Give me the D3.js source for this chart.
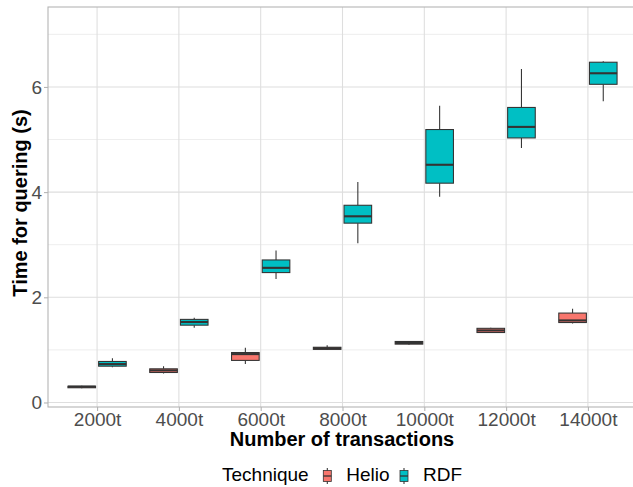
<!DOCTYPE html>
<html lang="en">

<head>
    <meta charset="utf-8">
    <script src="https://d3js.org/d3.v7.min.js"></script>
    <style>
        body { margin: 0; background: #fff; }
        text { font-family: "Liberation Sans", Arial, sans-serif; }
    </style>
</head>

<body>
    <div id="my_dataviz"></div>
</body>

<script>
    // data (whisker low, q1, median, q3, whisker high)
    const categories = ["2000t", "4000t", "6000t", "8000t", "10000t", "12000t", "14000t"];
    const techniques = ["Helio", "RDF"];
    const colors = ["#F8766D", "#00BFC4"];

    const helioLow = [0.27, 0.55, 0.73, 1.00, 1.10, 1.33, 1.50];
    const helioQ1 = [0.28, 0.57, 0.80, 1.01, 1.11, 1.33, 1.52];
    const helioMed = [0.30, 0.61, 0.92, 1.03, 1.13, 1.37, 1.56];
    const helioQ3 = [0.31, 0.64, 0.95, 1.05, 1.16, 1.41, 1.70];
    const helioHigh = [0.32, 0.69, 1.04, 1.09, 1.17, 1.42, 1.78];

    const rdfLow = [0.67, 1.42, 2.35, 3.03, 3.91, 4.84, 5.73];
    const rdfQ1 = [0.69, 1.47, 2.47, 3.41, 4.17, 5.03, 6.05];
    const rdfMed = [0.73, 1.53, 2.56, 3.54, 4.52, 5.24, 6.26];
    const rdfQ3 = [0.78, 1.58, 2.71, 3.75, 5.19, 5.61, 6.47];
    const rdfHigh = [0.84, 1.61, 2.89, 4.19, 5.64, 6.34, 6.49];

    const yTicks = [0, 2, 4, 6];
    const yMinor = [1, 3, 5, 7];

    // build rows for drawing
    const rows = [];
    categories.forEach((c, i) => {
        rows.push({ cat: c, tech: "Helio", low: helioLow[i], q1: helioQ1[i], med: helioMed[i], q3: helioQ3[i], high: helioHigh[i] });
        rows.push({ cat: c, tech: "RDF", low: rdfLow[i], q1: rdfQ1[i], med: rdfMed[i], q3: rdfQ3[i], high: rdfHigh[i] });
    });

    const W = 633, H = 487;
    const margin = { top: 7, right: -4, bottom: 80, left: 48 },
        width = W - margin.left - margin.right,
        height = H - margin.top - margin.bottom;

    const svg = d3.select("#my_dataviz")
        .append("svg")
        .attr("width", W)
        .attr("height", H)
        .append("g")
        .attr("transform", `translate(${margin.left},${margin.top})`);

    const x = d3.scalePoint()
        .domain(categories)
        .range([0, width])
        .padding(0.6);
    const step = x.step();

    const y = d3.scaleLinear()
        .domain([-0.086, 7.52])
        .range([height, 0]);

    const color = d3.scaleOrdinal().domain(techniques).range(colors);
    const dodge = d3.scaleOrdinal().domain(techniques).range([-0.1875 * step, 0.1875 * step]);
    const boxW = 0.3375 * step;

    // grid
    svg.append("g")
        .selectAll("line")
        .data(yMinor)
        .join("line")
        .attr("x1", 0).attr("x2", width)
        .attr("y1", d => y(d)).attr("y2", d => y(d))
        .attr("stroke", "#dedede").attr("stroke-width", 0.55);
    svg.append("g")
        .selectAll("line")
        .data(yTicks)
        .join("line")
        .attr("x1", 0).attr("x2", width)
        .attr("y1", d => y(d)).attr("y2", d => y(d))
        .attr("stroke", "#dedede").attr("stroke-width", 1.07);
    svg.append("g")
        .selectAll("line")
        .data(categories)
        .join("line")
        .attr("x1", d => x(d)).attr("x2", d => x(d))
        .attr("y1", 0).attr("y2", height)
        .attr("stroke", "#dedede").attr("stroke-width", 1.07);

    // panel border
    svg.append("rect")
        .attr("x", 0).attr("y", 0)
        .attr("width", width).attr("height", height)
        .attr("fill", "none")
        .attr("stroke", "#b3b3b3")
        .attr("stroke-width", 1.07);

    // boxes
    const g = svg.append("g")
        .selectAll("g")
        .data(rows)
        .join("g")
        .attr("transform", d => `translate(${x(d.cat) + dodge(d.tech)},0)`);

    g.append("line")
        .attr("x1", 0).attr("x2", 0)
        .attr("y1", d => y(d.high)).attr("y2", d => y(d.q3))
        .attr("stroke", "#333333").attr("stroke-width", 1.07);
    g.append("line")
        .attr("x1", 0).attr("x2", 0)
        .attr("y1", d => y(d.q1)).attr("y2", d => y(d.low))
        .attr("stroke", "#333333").attr("stroke-width", 1.07);
    g.append("rect")
        .attr("x", -boxW / 2)
        .attr("y", d => y(d.q3))
        .attr("width", boxW)
        .attr("height", d => y(d.q1) - y(d.q3))
        .attr("fill", d => color(d.tech))
        .attr("stroke", "#333333")
        .attr("stroke-width", 1.07);
    g.append("line")
        .attr("x1", -boxW / 2).attr("x2", boxW / 2)
        .attr("y1", d => y(d.med)).attr("y2", d => y(d.med))
        .attr("stroke", "#333333").attr("stroke-width", 2.1);

    // axes
    const xAxis = svg.append("g")
        .attr("transform", `translate(0,${height})`)
        .call(d3.axisBottom(x).tickSize(4).tickPadding(2));
    xAxis.select(".domain").remove();
    xAxis.selectAll("line").attr("stroke", "#b3b3b3").attr("stroke-width", 1.07);
    xAxis.selectAll("text")
        .attr("fill", "#4d4d4d")
        .style("font-size", "19px")
        .attr("dy", "0.71em");

    const yAxis = svg.append("g")
        .call(d3.axisLeft(y).tickValues(yTicks).tickSize(4).tickPadding(2));
    yAxis.select(".domain").remove();
    yAxis.selectAll("line").attr("stroke", "#b3b3b3").attr("stroke-width", 1.07);
    yAxis.selectAll("text")
        .attr("fill", "#4d4d4d")
        .style("font-size", "19px");

    // titles
    svg.append("text")
        .attr("x", 342 - margin.left)
        .attr("y", 446 - margin.top)
        .attr("text-anchor", "middle")
        .style("font-size", "20px")
        .style("font-weight", "bold")
        .text("Number of transactions");

    svg.append("text")
        .attr("transform", `translate(${27 - margin.left},${203 - margin.top}) rotate(-90)`)
        .attr("text-anchor", "middle")
        .style("font-size", "20px")
        .style("font-weight", "bold")
        .text("Time for quering (s)");

    // legend
    const legend = d3.select("#my_dataviz svg").append("g");
    legend.append("text")
        .attr("x", 222).attr("y", 481)
        .style("font-size", "19px")
        .text("Technique");

    const keyX = [327.3, 404];
    techniques.forEach((t, i) => {
        const k = legend.append("g").attr("transform", `translate(${keyX[i]},0)`);
        k.append("line")
            .attr("x1", 0).attr("x2", 0).attr("y1", 468).attr("y2", 484)
            .attr("stroke", "#333333").attr("stroke-width", 1.07);
        k.append("rect")
            .attr("x", -4).attr("y", 470.5).attr("width", 8).attr("height", 11)
            .attr("fill", color(t)).attr("stroke", "#333333").attr("stroke-width", 0.8);
        k.append("line")
            .attr("x1", -4).attr("x2", 4).attr("y1", 476).attr("y2", 476)
            .attr("stroke", "#333333").attr("stroke-width", 1.3);
        legend.append("text")
            .attr("x", keyX[i] + 19).attr("y", 481)
            .style("font-size", "19px")
            .text(t);
    });
</script>

</html>
